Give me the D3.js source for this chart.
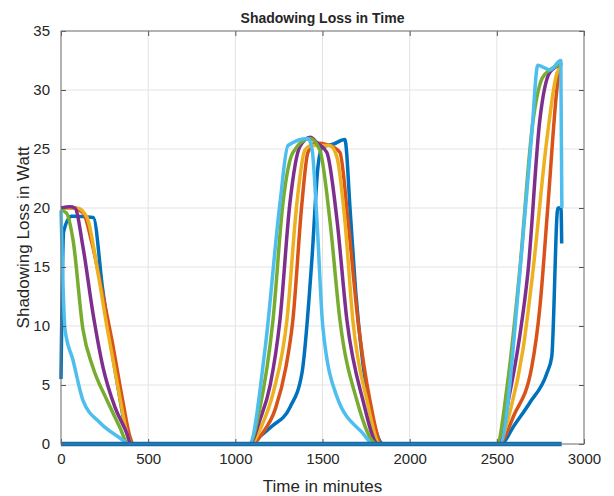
<!DOCTYPE html>
<html>
<head>
<meta charset="utf-8">
<script src="https://cdn.jsdelivr.net/npm/d3@7"></script>
<style>
  body { margin: 0; background: #fff; }
  text { font-family: "Liberation Sans", Arial, sans-serif; fill: #262626; }
</style>
</head>
<body>
<div id="chart"></div>
<script>
// values: [minute, watt]
const seriesBlue = [[0,5.5],[15,18],[60,19.3],[185,19.2],[240,13],[320,5.4],[378,0.9],[410,0],
  [1080,0],[1100,0.2],[1210,1.5],[1313,3.1],[1382,6],[1439,15.6],[1474,23.5],[1500,25.2],[1560,25.4],[1628,25.8],
  [1660,19.5],[1690,13],[1730,7],[1790,2],[1850,0],
  [2500,0],[2535,0.1],[2592,1.4],[2689,3.5],[2787,6],[2815,7.4],[2850,20],[2868,20],[2872,17]];
const seriesOrange = [[0,20],[60,20],[126,19.6],[178,17],[235,13],[292,8.8],[350,4],[396,0.6],[413,0],
  [1090,0],[1160,1],[1230,3],[1290,6.5],[1330,10.5],[1382,20.4],[1416,24.7],[1460,25.5],[1540,25.3],[1600,24.7],
  [1646,19],[1703,10.5],[1772,3.7],[1841,0],
  [2510,0],[2600,2.5],[2700,6.5],[2747,11.6],[2792,20],[2844,30],[2856,31.5],[2870,32.3]];
const seriesYellow = [[0,20],[92,20],[149,19.2],[206,15],[264,9.9],[327,4.8],[384,0.6],[400,0],
  [1085,0],[1150,1.5],[1220,4.5],[1296,10.5],[1353,20.4],[1399,24.9],[1440,25.3],[1542,25.3],[1583,24.3],
  [1628,19],[1674,10.5],[1755,3.7],[1829,0],
  [2505,0],[2580,3],[2650,8],[2706,14.5],[2787,25.8],[2844,31.4],[2870,32]];
const seriesPurple = [[0,20],[52,20.1],[80,20],[126,16.7],[183,11.1],[241,6.5],[310,3.1],[378,0.9],[400,0],
  [1082,0],[1140,2],[1200,5],[1256,10.5],[1313,20.4],[1370,25.2],[1430,26],[1470,25.5],[1525,24.7],
  [1583,19],[1640,10.5],[1732,3.7],[1818,0],
  [2505,0],[2570,4],[2630,9],[2678,14.5],[2747,27.5],[2804,31.5],[2870,32.2]];
const seriesGreen = [[0,19.8],[30,19.6],[69,17.3],[126,9.7],[183,6.5],[264,3.7],[338,1.4],[384,0],
  [1080,0],[1140,3],[1216,10.5],[1273,20.4],[1330,24.7],[1428,25.9],[1485,24.9],[1542,19],[1600,10.5],
  [1697,3.7],[1812,0],
  [2500,0],[2560,5],[2630,14.5],[2706,27.2],[2760,31],[2804,31.7],[2870,32.2]];
const seriesCyan = [[0,19.8],[23,9.7],[69,7.1],[126,3.7],[224,1.8],[356,0.3],[380,0],
  [1080,0],[1170,8],[1256,20.4],[1302,25.3],[1416,25.9],[1440,25],[1468,19],[1502,9.9],[1583,4],[1732,0.9],[1790,0],
  [2500,0],[2517,0],[2632,14.5],[2701,26.4],[2735,32.1],[2804,31.7],[2867,32.5],[2873,20]];

const allSeries = [seriesBlue, seriesOrange, seriesYellow, seriesPurple, seriesGreen, seriesCyan];
const colors = ["#0072BD", "#D95319", "#EDB120", "#7E2F8E", "#77AC30", "#4DBEEE"];
const xTicks = [0, 500, 1000, 1500, 2000, 2500, 3000];
const yTicks = [0, 5, 10, 15, 20, 25, 30, 35];

const width = 614, height = 496;
const margin = {top: 31, right: 30, bottom: 52, left: 61};

const svg = d3.select("#chart").append("svg")
    .attr("width", width)
    .attr("height", height);

const x = d3.scaleLinear().domain([0, 3000]).range([margin.left, width - margin.right]);
const y = d3.scaleLinear().domain([0, 35]).range([height - margin.bottom, margin.top]);

// grid
svg.append("g")
  .selectAll("line")
  .data(xTicks)
  .join("line")
    .attr("x1", d => x(d)).attr("x2", d => x(d))
    .attr("y1", y(0)).attr("y2", y(35))
    .attr("stroke", "#e3e3e3");
svg.append("g")
  .selectAll("line")
  .data(yTicks)
  .join("line")
    .attr("x1", x(0)).attr("x2", x(3000))
    .attr("y1", d => y(d)).attr("y2", d => y(d))
    .attr("stroke", "#e3e3e3");

// lines
const line = d3.line().x(d => x(d[0])).y(d => y(d[1])).curve(d3.curveMonotoneX);
svg.append("g")
    .attr("fill", "none")
    .attr("stroke-linejoin", "round")
  .selectAll("path")
  .data(allSeries)
  .join("path")
    .attr("stroke", (d, i) => colors[i])
    .attr("stroke-width", 3.5)
    .attr("d", line);

// dark blue night baseline on top
const tExtent = d3.extent(seriesBlue, d => d[0]);
svg.append("path")
    .attr("fill", "none")
    .attr("stroke", colors[0])
    .attr("stroke-width", 4.5)
    .attr("d", line([[tExtent[0], 0], [tExtent[1], 0]]));

// axes
const tickLen = 5;
const fontSize = 15;
const fmt = d3.format("d");
svg.append("g")
    .attr("transform", `translate(0,${y(0)})`)
    .call(d3.axisBottom(x).tickValues(xTicks).tickFormat(fmt).tickSizeInner(-tickLen).tickSizeOuter(0).tickPadding(9))
    .call(g => g.select(".domain").remove())
    .call(g => g.selectAll("line").attr("stroke", "#555"))
    .call(g => g.selectAll("text").attr("font-size", fontSize).attr("fill", "#333"));
svg.append("g")
    .attr("transform", `translate(0,${y(35)})`)
    .call(d3.axisTop(x).tickValues(xTicks).tickSizeInner(-tickLen).tickSizeOuter(0).tickFormat(""))
    .call(g => g.select(".domain").remove())
    .call(g => g.selectAll("line").attr("stroke", "#555"));
svg.append("g")
    .attr("transform", `translate(${x(0)},0)`)
    .call(d3.axisLeft(y).tickValues(yTicks).tickFormat(fmt).tickSizeInner(-tickLen).tickSizeOuter(0).tickPadding(11))
    .call(g => g.select(".domain").remove())
    .call(g => g.selectAll("line").attr("stroke", "#555"))
    .call(g => g.selectAll("text").attr("font-size", fontSize).attr("fill", "#333"));
svg.append("g")
    .attr("transform", `translate(${x(3000)},0)`)
    .call(d3.axisRight(y).tickValues(yTicks).tickSizeInner(-tickLen).tickSizeOuter(0).tickFormat(""))
    .call(g => g.select(".domain").remove())
    .call(g => g.selectAll("line").attr("stroke", "#555"));

// box
svg.append("rect")
    .attr("x", x(0)).attr("y", y(35))
    .attr("width", x(3000) - x(0)).attr("height", y(0) - y(35))
    .attr("fill", "none")
    .attr("stroke", "#777");

// labels
svg.append("text")
    .attr("x", (x(0) + x(3000)) / 2)
    .attr("y", 23)
    .attr("text-anchor", "middle")
    .attr("font-size", 14)
    .attr("font-weight", "bold")
    .text("Shadowing Loss in Time");
svg.append("text")
    .attr("x", (x(0) + x(3000)) / 2)
    .attr("y", 492)
    .attr("text-anchor", "middle")
    .attr("font-size", 17)
    .attr("fill", "#333")
    .text("Time in minutes");
svg.append("text")
    .attr("transform", `translate(29,${(y(0) + y(35)) / 2}) rotate(-90)`)
    .attr("text-anchor", "middle")
    .attr("font-size", 17)
    .attr("fill", "#333")
    .text("Shadowing Loss in Watt");
</script>
</body>
</html>
